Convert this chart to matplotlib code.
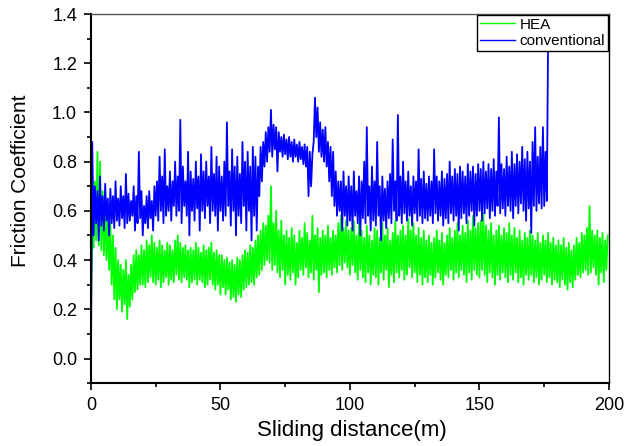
import numpy as np
import matplotlib
matplotlib.use("Agg")
import matplotlib.pyplot as plt
from matplotlib.ticker import MultipleLocator, FormatStrFormatter

plt.rcParams['font.family'] = ['Liberation Sans', 'DejaVu Sans']

# friction trace, one low/high pair per metre of sliding
hea_low = [
    0.22, 0.45, 0.48, 0.46, 0.44, 0.42, 0.40, 0.36, 0.30, 0.24,
    0.20, 0.24, 0.19, 0.22, 0.16, 0.21, 0.24, 0.27, 0.28, 0.30,
    0.30, 0.29, 0.31, 0.33, 0.31, 0.30, 0.32, 0.29, 0.31, 0.33,
    0.30, 0.32, 0.31, 0.34, 0.32, 0.31, 0.33, 0.32, 0.29, 0.31,
    0.32, 0.30, 0.32, 0.31, 0.29, 0.30, 0.32, 0.30, 0.28, 0.30,
    0.26, 0.29, 0.26, 0.28, 0.24, 0.25, 0.23, 0.26, 0.25, 0.28,
    0.29, 0.30, 0.31, 0.30, 0.33, 0.34, 0.36, 0.38, 0.40, 0.39,
    0.36, 0.38, 0.35, 0.33, 0.36, 0.30, 0.34, 0.32, 0.35, 0.30,
    0.33, 0.36, 0.34, 0.37, 0.33, 0.35, 0.32, 0.36, 0.27, 0.34,
    0.35, 0.33, 0.36, 0.34, 0.37, 0.35, 0.38, 0.36, 0.39, 0.37,
    0.34, 0.38, 0.35, 0.32, 0.36, 0.33, 0.31, 0.35, 0.30, 0.34,
    0.33, 0.30, 0.35, 0.32, 0.36, 0.29, 0.34, 0.31, 0.35, 0.33,
    0.36, 0.32, 0.34, 0.37, 0.33, 0.35, 0.31, 0.34, 0.30, 0.33,
    0.31, 0.34, 0.30, 0.33, 0.35, 0.32, 0.30, 0.34, 0.33, 0.36,
    0.32, 0.35, 0.33, 0.36, 0.34, 0.31, 0.35, 0.32, 0.36, 0.34,
    0.33, 0.36, 0.34, 0.31, 0.35, 0.33, 0.30, 0.34, 0.32, 0.35,
    0.33, 0.31, 0.34, 0.32, 0.35, 0.31, 0.33, 0.30, 0.34, 0.32,
    0.34, 0.31, 0.33, 0.30, 0.32, 0.34, 0.31, 0.33, 0.30, 0.32,
    0.31, 0.29, 0.32, 0.30, 0.28, 0.31, 0.29, 0.32, 0.34, 0.33,
    0.35, 0.36, 0.34, 0.35, 0.37, 0.34, 0.30, 0.35, 0.31, 0.36,
]
hea_high = [
    0.50, 0.72, 0.84, 0.80, 0.68, 0.62, 0.58, 0.55, 0.50, 0.45,
    0.40, 0.38, 0.36, 0.40, 0.34, 0.38, 0.42, 0.44, 0.42, 0.46,
    0.44, 0.48, 0.46, 0.50, 0.47, 0.45, 0.48, 0.46, 0.44, 0.47,
    0.46, 0.44, 0.48, 0.50, 0.47, 0.45, 0.46, 0.44, 0.45, 0.44,
    0.47, 0.45, 0.43, 0.46, 0.44, 0.45, 0.47, 0.43, 0.44, 0.42,
    0.42, 0.40, 0.41, 0.39, 0.40, 0.38, 0.41, 0.40, 0.42, 0.44,
    0.43, 0.46, 0.45, 0.48, 0.50, 0.52, 0.55, 0.54, 0.58, 0.70,
    0.55, 0.60, 0.52, 0.56, 0.50, 0.52, 0.49, 0.53, 0.50, 0.47,
    0.52, 0.49, 0.55, 0.51, 0.48, 0.58, 0.50, 0.53, 0.49, 0.52,
    0.50, 0.54, 0.49, 0.52, 0.50, 0.55, 0.58, 0.53, 0.56, 0.52,
    0.53, 0.56, 0.50, 0.55, 0.52, 0.49, 0.54, 0.50, 0.48, 0.53,
    0.52, 0.49, 0.55, 0.50, 0.53, 0.48, 0.51, 0.56, 0.50, 0.52,
    0.54, 0.50, 0.57, 0.52, 0.55, 0.50, 0.53, 0.49, 0.52, 0.48,
    0.50, 0.47, 0.49, 0.52, 0.48, 0.51, 0.47, 0.50, 0.53, 0.49,
    0.52, 0.55, 0.50, 0.54, 0.51, 0.56, 0.52, 0.58, 0.53, 0.55,
    0.56, 0.59, 0.54, 0.52, 0.55, 0.50, 0.52, 0.54, 0.50, 0.53,
    0.51, 0.55, 0.50, 0.53, 0.49, 0.52, 0.48, 0.51, 0.49, 0.52,
    0.50, 0.48, 0.51, 0.47, 0.50, 0.48, 0.51, 0.47, 0.49, 0.46,
    0.48, 0.46, 0.49, 0.45, 0.47, 0.44, 0.46, 0.49, 0.47, 0.51,
    0.50, 0.53, 0.62, 0.52, 0.50, 0.52, 0.49, 0.51, 0.48, 0.50,
]
conv_low = [
    0.00, 0.50, 0.55, 0.48, 0.54, 0.52, 0.56, 0.50, 0.55, 0.53,
    0.56, 0.54, 0.57, 0.53, 0.55, 0.56, 0.58, 0.52, 0.55, 0.57,
    0.50, 0.55, 0.53, 0.57, 0.52, 0.58, 0.56, 0.60, 0.55, 0.58,
    0.60, 0.56, 0.62, 0.58, 0.60, 0.55, 0.62, 0.58, 0.50, 0.60,
    0.56, 0.61, 0.52, 0.60, 0.57, 0.62, 0.55, 0.60, 0.58, 0.52,
    0.60, 0.56, 0.58, 0.62, 0.54, 0.60, 0.50, 0.58, 0.55, 0.62,
    0.52, 0.60, 0.48, 0.58, 0.52, 0.66, 0.72, 0.78, 0.80, 0.84,
    0.82, 0.85, 0.76, 0.84, 0.82, 0.83, 0.81, 0.82, 0.80, 0.82,
    0.80, 0.81, 0.79, 0.78, 0.66, 0.70, 0.88, 0.90, 0.84, 0.82,
    0.80, 0.78, 0.72, 0.66, 0.62, 0.58, 0.60, 0.52, 0.58, 0.54,
    0.56, 0.52, 0.58, 0.55, 0.50, 0.57, 0.55, 0.58, 0.52, 0.56,
    0.54, 0.58, 0.48, 0.56, 0.53, 0.57, 0.55, 0.60, 0.56, 0.58,
    0.55, 0.59, 0.56, 0.58, 0.54, 0.59, 0.56, 0.58, 0.55, 0.57,
    0.56, 0.58, 0.55, 0.59, 0.56, 0.58, 0.54, 0.57, 0.55, 0.59,
    0.56, 0.58, 0.52, 0.57, 0.59, 0.55, 0.58, 0.60, 0.54, 0.58,
    0.60, 0.56, 0.59, 0.61, 0.57, 0.60, 0.58, 0.62, 0.59, 0.61,
    0.58, 0.62, 0.60, 0.57, 0.62, 0.59, 0.63, 0.60, 0.56, 0.61,
    0.51, 0.62, 0.60, 0.63, 0.61, 0.62, 0.64,
]
conv_high = [
    0.88, 0.70, 0.68, 0.74, 0.66, 0.71, 0.65, 0.69, 0.66, 0.72,
    0.65, 0.70, 0.66, 0.75, 0.67, 0.64, 0.70, 0.66, 0.84, 0.68,
    0.62, 0.66, 0.68, 0.64, 0.70, 0.72, 0.82, 0.74, 0.85, 0.70,
    0.76, 0.72, 0.80, 0.74, 0.97, 0.78, 0.72, 0.84, 0.76, 0.73,
    0.80, 0.74, 0.83, 0.76, 0.80, 0.74, 0.86, 0.75, 0.82, 0.78,
    0.74, 0.80, 0.96, 0.76, 0.85, 0.78, 0.82, 0.75, 0.88, 0.80,
    0.84, 0.78, 0.86, 0.82, 0.78, 0.86, 0.88, 0.92, 0.94, 1.01,
    0.95, 0.94, 0.92, 0.90, 0.91, 0.89, 0.90, 0.88, 0.89, 0.87,
    0.88, 0.86, 0.87, 0.86, 0.84, 0.83, 1.06, 1.02, 0.96, 0.93,
    0.94, 0.88, 0.86, 0.84, 0.76, 0.72, 0.72, 0.76, 0.70, 0.74,
    0.70, 0.76, 0.68, 0.74, 0.72, 0.80, 0.94, 0.70, 0.78, 0.72,
    0.88, 0.70, 0.74, 0.69, 0.72, 0.75, 0.89, 0.72, 0.99, 0.74,
    0.80, 0.72, 0.76, 0.70, 0.74, 0.72, 0.85, 0.73, 0.76, 0.71,
    0.74, 0.72, 0.85, 0.74, 0.72, 0.76, 0.73, 0.75, 0.80, 0.74,
    0.77, 0.75, 0.78, 0.76, 0.74, 0.79, 0.76, 0.78, 0.75, 0.79,
    0.77, 0.80, 0.76, 0.79, 0.77, 0.81, 0.76, 0.98, 0.79, 0.77,
    0.82, 0.78, 0.84, 0.79, 0.83, 0.80, 0.86, 0.81, 0.84, 0.80,
    0.88, 0.94, 0.82, 0.86, 0.94, 0.84, 1.30,
]


def zigzag(low, high):
    # alternate low/high within each metre so the trace looks like raw sensor noise
    d = np.arange(len(low), dtype=float)
    x = np.column_stack([d, d + 0.5]).ravel()
    y = np.column_stack([low, high]).ravel()
    return x, y


fig = plt.figure(figsize=(6.36, 4.46), dpi=100)
ax = fig.add_axes([0.143, 0.141, 0.8145, 0.8276])

hx, hy = zigzag(hea_low, hea_high)
cx, cy = zigzag(conv_low, conv_high)
ax.plot(hx, hy, color='#00ff00', lw=1.3, label='HEA')
ax.plot(cx, cy, color='#0000ff', lw=1.3, label='conventional')

ax.set_xlim(0, 200)
ax.set_ylim(-0.1, 1.4)
ax.xaxis.set_major_locator(MultipleLocator(50))
ax.xaxis.set_minor_locator(MultipleLocator(25))
ax.yaxis.set_major_locator(MultipleLocator(0.2))
ax.yaxis.set_minor_locator(MultipleLocator(0.1))
ax.yaxis.set_major_formatter(FormatStrFormatter('%.1f'))
ax.tick_params(which='both', direction='out', width=1.2, labelsize=13, top=False, right=False)
ax.tick_params(which='major', length=5, pad=5)
ax.tick_params(which='minor', length=3)

for side in ('left', 'bottom'):
    ax.spines[side].set_linewidth(1.5)
ax.spines['right'].set_linewidth(1.0)
ax.spines['top'].set_linewidth(1.0)
ax.spines['top'].set_color('#555555')

ax.set_xlabel('Sliding distance(m)', fontsize=16)
ax.set_ylabel('Friction Coefficient', fontsize=15)
ax.xaxis.set_label_coords(0.503, -0.10)
ax.yaxis.set_label_coords(-0.118, 0.547)

leg = ax.legend(loc='upper right', borderaxespad=0.05, fancybox=False, framealpha=1,
                edgecolor='black', fontsize=11, handlelength=2.3, handletextpad=0.3,
                borderpad=0.2, labelspacing=0.15)
leg.get_frame().set_linewidth(1.0)
leg.set_zorder(5)
for line in leg.get_lines():
    line.set_linewidth(1.0)

fig.savefig('out.png', dpi=100)
